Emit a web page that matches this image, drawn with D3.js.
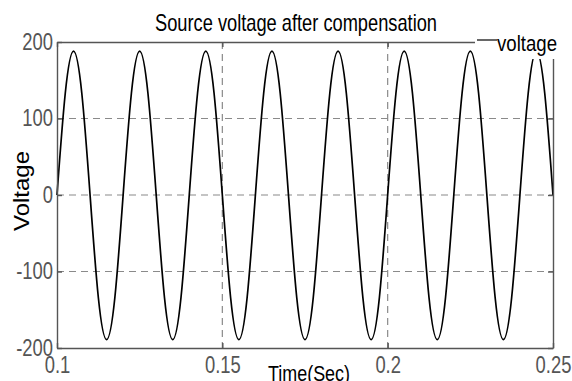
<!DOCTYPE html>
<html>
<head>
<meta charset="utf-8">
<script src="https://cdn.jsdelivr.net/npm/d3@7"></script>
<style>
  body { margin: 0; background: #fff; }
  svg { display: block; font-family: "Liberation Sans", Arial, sans-serif; }
</style>
</head>
<body>
<svg id="chart" width="572" height="381"></svg>
<script>
// time samples (s), every 1/8 of a 50 Hz period
var times = [0.1, 0.1025, 0.105, 0.1075, 0.11, 0.1125, 0.115, 0.1175,
  0.12, 0.1225, 0.125, 0.1275, 0.13, 0.1325, 0.135, 0.1375,
  0.14, 0.1425, 0.145, 0.1475, 0.15, 0.1525, 0.155, 0.1575,
  0.16, 0.1625, 0.165, 0.1675, 0.17, 0.1725, 0.175, 0.1775,
  0.18, 0.1825, 0.185, 0.1875, 0.19, 0.1925, 0.195, 0.1975,
  0.2, 0.2025, 0.205, 0.2075, 0.21, 0.2125, 0.215, 0.2175,
  0.22, 0.2225, 0.225, 0.2275, 0.23, 0.2325, 0.235, 0.2375,
  0.24, 0.2425, 0.245, 0.2475, 0.25];
// voltage at those times
var voltage = [0, 133, 188, 133, 0, -134, -189, -134,
  0, 133, 188, 133, 0, -134, -189, -134,
  0, 133, 188, 133, 0, -134, -189, -134,
  0, 133, 188, 133, 0, -134, -189, -134,
  0, 133, 188, 133, 0, -134, -189, -134,
  0, 133, 188, 133, 0, -134, -189, -134,
  0, 133, 188, 133, 0, -134, -189, -134,
  0, 133, 188, 133, 0];
var xTicks = [0.1, 0.15, 0.2, 0.25];
var xTickLabels = ["0.1", "0.15", "0.2", "0.25"];
var yTicks = [-200, -100, 0, 100, 200];
var yTickLabels = ["-200", "-100", "0", "100", "200"];

var svg = d3.select("#chart"),
    margin = {top: 42, right: 19, bottom: 33, left: 57},
    width = +svg.attr("width") - margin.left - margin.right,
    height = +svg.attr("height") - margin.top - margin.bottom;

var x = d3.scaleLinear().domain([0.1, 0.25]).range([0, width]),
    y = d3.scaleLinear().domain([-200, 200]).range([height, 0]);

// squeeze text, the original font is narrow
function narrow(sel, k) {
  sel.each(function() {
    var len = this.getComputedTextLength();
    d3.select(this).attr("textLength", len * k).attr("lengthAdjust", "spacingAndGlyphs");
  });
}
function fitTo(sel, w) {
  sel.attr("textLength", w).attr("lengthAdjust", "spacingAndGlyphs");
}

var g = svg.append("g")
    .attr("transform", "translate(" + margin.left + "," + margin.top + ")");

// dashed grid
g.append("g").selectAll("line")
    .data(yTicks.filter(function(d) { return d > -200 && d < 200; }))
  .enter().append("line")
    .attr("x1", 0).attr("x2", width)
    .attr("y1", function(d) { return y(d); }).attr("y2", function(d) { return y(d); })
    .attr("stroke", "#8a8a8a").attr("stroke-width", 1.2).attr("stroke-dasharray", "7,5");
g.append("g").selectAll("line")
    .data(xTicks.filter(function(d) { return d > 0.1 && d < 0.25; }))
  .enter().append("line")
    .attr("y1", 0).attr("y2", height)
    .attr("x1", function(d) { return x(d); }).attr("x2", function(d) { return x(d); })
    .attr("stroke", "#8a8a8a").attr("stroke-width", 1.2).attr("stroke-dasharray", "7,5");

// the wave
var line = d3.line()
    .x(function(d, i) { return x(times[i]); })
    .y(function(d) { return y(d); })
    .curve(d3.curveNatural);

g.append("path")
    .datum(voltage)
    .attr("fill", "none")
    .attr("stroke", "#000")
    .attr("stroke-width", 1.7)
    .attr("d", line);

// axes, inward ticks on all sides
var xAxis = d3.axisBottom(x).tickValues(xTicks)
    .tickFormat(function(d, i) { return xTickLabels[i]; })
    .tickSize(-5).tickSizeOuter(0).tickPadding(9);
var yAxis = d3.axisLeft(y).tickValues(yTicks)
    .tickFormat(function(d, i) { return yTickLabels[i]; })
    .tickSize(-5).tickSizeOuter(0).tickPadding(4);

var gx = g.append("g").attr("transform", "translate(0," + height + ")").call(xAxis);
var gy = g.append("g").call(yAxis);
g.append("g").call(d3.axisTop(x).tickValues(xTicks).tickFormat("").tickSize(-5).tickSizeOuter(0));
g.append("g").attr("transform", "translate(" + width + ",0)")
    .call(d3.axisRight(y).tickValues(yTicks).tickFormat("").tickSize(-5).tickSizeOuter(0));

g.selectAll(".domain, .tick line").attr("stroke", "#555").attr("stroke-width", 1.4);
[gx, gy].forEach(function(a) {
  a.selectAll("text").attr("fill", "#555").style("font-size", "23px")
    .style("font-family", "'Liberation Sans', Arial, sans-serif");
  narrow(a.selectAll("text"), 0.8);
});

// legend, white box over the top right corner
svg.append("rect")
    .attr("x", 475).attr("y", 30).attr("width", 90).attr("height", 29)
    .attr("fill", "#fff");
svg.append("line")
    .attr("x1", 477).attr("x2", 497).attr("y1", 40).attr("y2", 40)
    .attr("stroke", "#000").attr("stroke-width", 1.2);
svg.append("text")
    .attr("x", 497).attr("y", 51)
    .style("font-size", "22px")
    .text("voltage")
    .call(fitTo, 60);

// title and axis labels
svg.append("text")
    .attr("x", 296).attr("y", 31)
    .attr("text-anchor", "middle")
    .style("font-size", "24px")
    .text("Source voltage after compensation")
    .call(fitTo, 282);

svg.append("text")
    .attr("x", 309).attr("y", 381)
    .attr("text-anchor", "middle")
    .style("font-size", "22px")
    .text("Time(Sec)")
    .call(fitTo, 82);

svg.append("text")
    .attr("transform", "translate(29,191) rotate(-90)")
    .attr("text-anchor", "middle")
    .style("font-size", "22px")
    .text("Voltage")
    .call(fitTo, 80);
</script>
</body>
</html>
